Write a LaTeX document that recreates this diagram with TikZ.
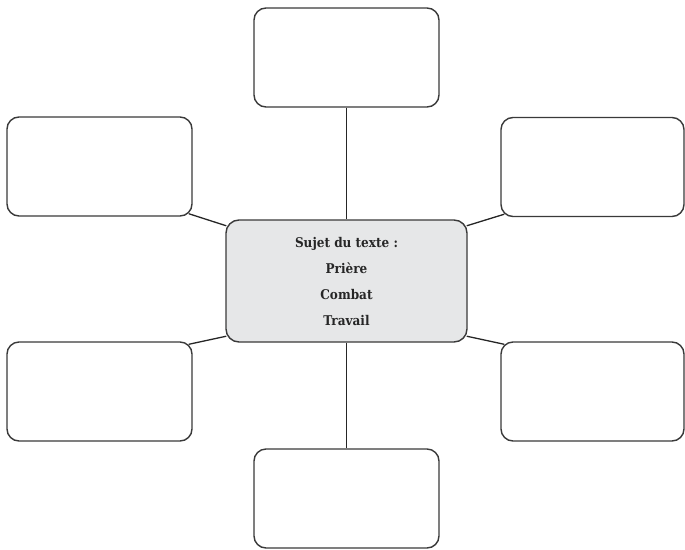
\documentclass[tikz,border=0pt]{standalone}
\usepackage{fontspec}
\newfontfamily\slabfont{DejaVu Serif Condensed}
\usetikzlibrary{calc}
\definecolor{edge}{HTML}{3A3A3A}
\definecolor{centerfill}{HTML}{E6E7E8}
\tikzset{
  outerbox/.style={draw=edge, line width=1.4pt, rounded corners=12pt, minimum width=185pt, minimum height=99pt, inner sep=0pt, fill=white},
  centerbox/.style={draw=edge, line width=1.4pt, rounded corners=13pt, minimum width=241pt, minimum height=122pt, inner sep=0pt, fill=centerfill, align=center, font=\slabfont\bfseries\fontsize{13.4}{26}\selectfont, text=black!85},
  link/.style={draw=black!85, line width=1.3pt}
}
\begin{document}
\begin{tikzpicture}[x=1pt,y=-1pt]
\useasboundingbox (0,0) rectangle (685,549);
\node[outerbox] (top) at (346.5,57.5) {};
\node[outerbox] (lu) at (99.5,166.5) {};
\node[outerbox, minimum width=183pt] (ru) at (592.5,167) {};
\node[outerbox] (ll) at (99.5,391.5) {};
\node[outerbox, minimum width=183pt] (rl) at (592.5,391.5) {};
\node[outerbox] (bot) at (346.5,498.5) {};
\node[centerbox] (c) at (346.5,281) {Sujet du texte :\\Prière\\Combat\\Travail};
\draw[link] (top.south) -- (c.north);
\draw[link] (c.south) -- (bot.north);
\draw[link] ($(lu.south east)+(-4,-3)$) -- ($(c.north west)+(1,6.5)$);
\draw[link] ($(ru.south west)+(4,-3)$) -- ($(c.north east)+(-1,6.5)$);
\draw[link] ($(ll.north east)+(-4,3)$) -- ($(c.south west)+(1,-6.5)$);
\draw[link] ($(rl.north west)+(4,3)$) -- ($(c.south east)+(-1,-6.5)$);
\end{tikzpicture}
\end{document}
